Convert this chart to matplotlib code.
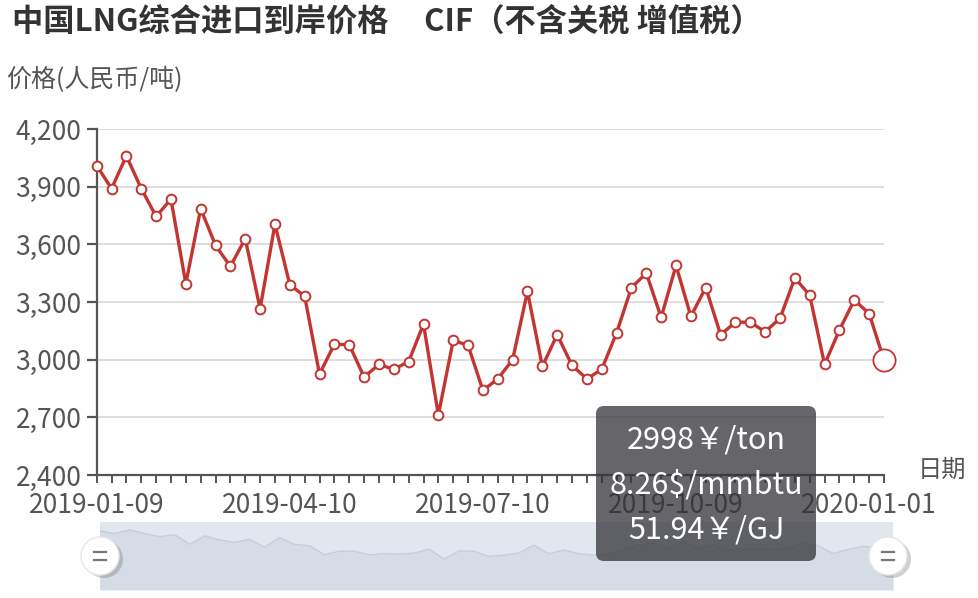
import numpy as np
import matplotlib.pyplot as plt
from matplotlib.patches import FancyBboxPatch, Circle

plt.rcParams['font.family'] = ['Noto Sans CJK SC', 'DejaVu Sans']

# weekly LNG import price, yuan/ton
prices = [4010, 3890, 4060, 3890, 3745, 3835, 3395, 3785, 3595, 3485,
          3630, 3265, 3705, 3390, 3330, 2925, 3080, 3078, 2910, 2975,
          2950, 2990, 3185, 2712, 3100, 3075, 2840, 2900, 3000, 3355,
          2965, 3130, 2970, 2900, 2950, 3140, 3375, 3450, 3220, 3490,
          3225, 3375, 3130, 3195, 3195, 3145, 3215, 3425, 3335, 2975,
          3155, 3310, 3240, 2998]
tick_pos = [0, 13, 26, 39, 52]
tick_labels = ['2019-01-09', '2019-04-10', '2019-07-10', '2019-10-09', '2020-01-01']
y_ticks = [2400, 2700, 3000, 3300, 3600, 3900, 4200]
tooltip_lines = ['2998￥/ton', '8.26$/mmbtu', '51.94￥/GJ']

RED = '#c23531'
AXIS = '#555555'
W, H = 979, 598

fig = plt.figure(figsize=(W / 100, H / 100), dpi=100)
ax = fig.add_axes([96.7 / W, 1 - 475 / H, (884 - 96.7) / W, (475 - 129) / H])

x = np.arange(len(prices))
ax.plot(x, prices, color=RED, lw=2.4, zorder=3, clip_on=False)
ax.plot(x[:-1], prices[:-1], 'o', ms=7, mfc='white', mec=RED, mew=1.4,
        zorder=4, clip_on=False)
ax.plot(x[-1], prices[-1], 'o', ms=16, mfc='white', mec=RED, mew=1.3,
        zorder=4, clip_on=False)

ax.set_xlim(0, len(prices) - 1)
ax.set_ylim(2400, 4200)
ax.set_yticks(y_ticks)
ax.set_yticklabels([f'{v:,}' for v in y_ticks])
ax.set_xticks(x, minor=True)
ax.set_xticks(tick_pos)
ax.set_xticklabels(tick_labels)
ax.grid(axis='y', color='#dedede', lw=1.4)
ax.set_axisbelow(True)
for s in ['top', 'right']:
    ax.spines[s].set_visible(False)
for s in ['left', 'bottom']:
    ax.spines[s].set_color(AXIS)
    ax.spines[s].set_linewidth(1.6)
ax.tick_params(axis='y', length=7, width=1.6, color=AXIS, labelcolor='#555555',
               labelsize=19, pad=4)
ax.tick_params(axis='x', which='both', length=6, width=1.4, color=AXIS,
               labelcolor='#555555', labelsize=19, pad=6)
for lbl in ax.get_yticklabels():
    lbl.set_va('center_baseline')

# overlay in pixel coordinates for slider handles and tooltip
ov = fig.add_axes([0, 0, 1, 1], zorder=10)
ov.set_xlim(0, W)
ov.set_ylim(H, 0)
ov.axis('off')
ov.patch.set_alpha(0)

fig.text(12 / W, 1 - 22 / H, '中国LNG综合进口到岸价格     CIF（不含关税 增值税）',
         fontsize=22.5, fontweight='bold', color='#333333', va='center', ha='left')
fig.text(6 / W, 1 - 80 / H, '价格(人民币/吨)', fontsize=18, color='#555555',
         va='center', ha='left')
fig.text(918 / W, 1 - 470 / H, '日期', fontsize=17.5, color='#555555',
         va='center', ha='left')

# data zoom slider
sl = fig.add_axes([100 / W, 1 - 590 / H, (893 - 100) / W, (590 - 522) / H], zorder=5)
sl.set_facecolor('#e1e7ee')
sl.fill_between(x, prices, 1300, color='#d5dce5', lw=0)
sl.plot(x, prices, color='#c5ced9', lw=1.0)
sl.set_xlim(0, len(prices) - 1)
sl.set_ylim(1300, 4420)
sl.set_xticks([])
sl.set_yticks([])
for s in sl.spines.values():
    s.set_visible(False)

for hx in [100, 888]:
    ov.add_patch(Circle((hx + 4, 559), 19, color='#777777', alpha=0.35, lw=0, zorder=11))
    ov.add_patch(Circle((hx, 556), 19, facecolor='white', edgecolor='#e6e6e6',
                        lw=1, zorder=12))
    ov.plot([hx - 6, hx + 6], [552, 552], color='#777777', lw=1.6, zorder=13)
    ov.plot([hx - 6, hx + 6], [560, 560], color='#777777', lw=1.6, zorder=13)

# tooltip
ov.add_patch(FancyBboxPatch((596, 406), 220, 155,
                            boxstyle='round,pad=0,rounding_size=8',
                            facecolor=(0.2, 0.2, 0.22, 0.75), lw=0, zorder=20))
for i, t in enumerate(tooltip_lines):
    ov.text(706, 440 + i * 45, t, color='white', fontsize=22, ha='center',
            va='center', zorder=21)

fig.savefig('out.png', dpi=100, facecolor='white')
